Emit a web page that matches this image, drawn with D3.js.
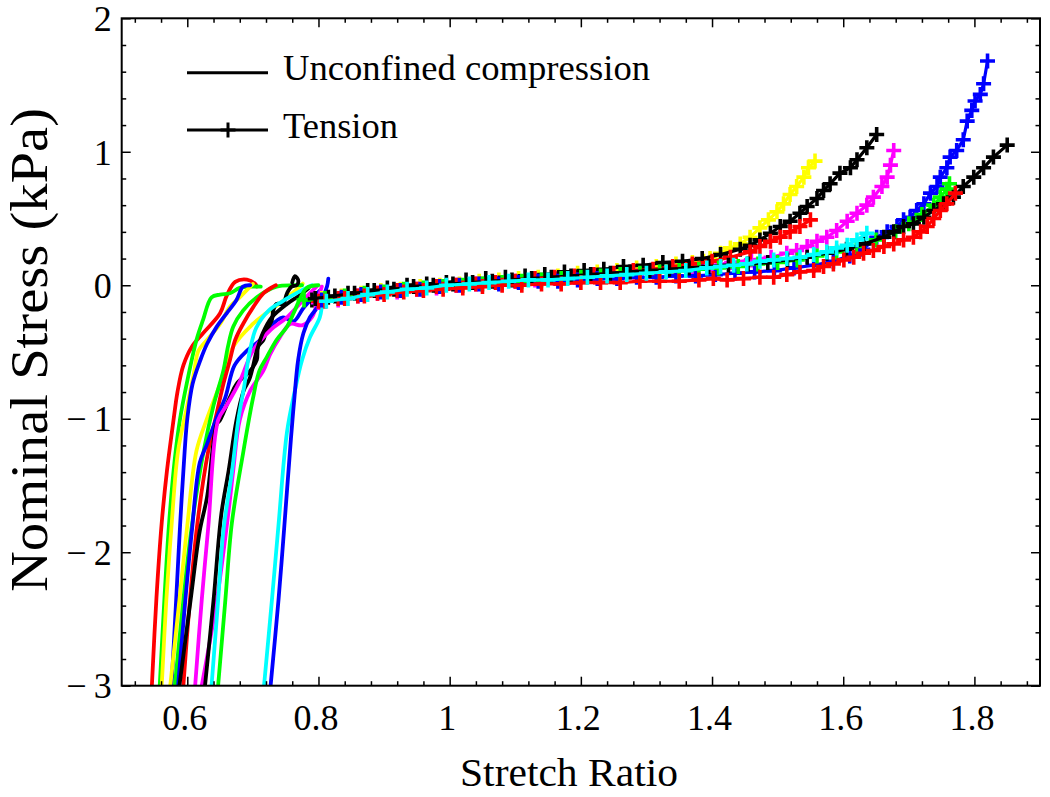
<!DOCTYPE html>
<html>
<head>
<meta charset="utf-8">
<script src="https://cdnjs.cloudflare.com/ajax/libs/d3/7.8.5/d3.min.js"></script>
<style>
  body { margin: 0; background: #fff; }
  text { font-family: "Liberation Serif", "Times New Roman", serif; fill: #000; }
</style>
</head>
<body>
<script>
// ---- data: [stretch ratio, nominal stress kPa] ----

// unconfined compression curves (solid lines)
var compRed1 = [[0.706,-0.01],[0.703,0.013],[0.691,0.043],[0.673,0.025],[0.660,-0.08],[0.650,-0.21],[0.624,-0.36],[0.607,-0.46],[0.594,-0.6],[0.585,-0.8],[0.579,-1.01],[0.569,-1.39],[0.561,-1.78],[0.553,-2.34],[0.546,-3]];
var compGreen1 = [[0.712,-0.01],[0.700,-0.01],[0.680,-0.02],[0.665,-0.06],[0.650,-0.07],[0.637,-0.09],[0.624,-0.26],[0.614,-0.41],[0.599,-0.74],[0.589,-1.0],[0.581,-1.3],[0.572,-1.8],[0.565,-2.36],[0.558,-3]];
var compYellow1 = [[0.700,0.01],[0.696,-0.01],[0.680,-0.09],[0.665,-0.16],[0.650,-0.29],[0.630,-0.41],[0.617,-0.49],[0.610,-0.66],[0.600,-0.9],[0.586,-1.24],[0.576,-1.8],[0.568,-2.36],[0.561,-3]];
var compBlue1 = [[0.696,0.0],[0.685,-0.01],[0.675,-0.11],[0.660,-0.21],[0.645,-0.31],[0.630,-0.44],[0.620,-0.56],[0.608,-0.74],[0.600,-1.0],[0.596,-1.24],[0.589,-1.8],[0.583,-2.36],[0.576,-3]];
var compYellow2 = [[0.776,0.013],[0.760,-0.06],[0.741,-0.136],[0.720,-0.21],[0.700,-0.29],[0.670,-0.46],[0.650,-0.74],[0.630,-1.0],[0.614,-1.24],[0.600,-1.8],[0.588,-2.36],[0.574,-3]];
var compGreen2 = [[0.775,0.0],[0.762,0.0],[0.736,-0.01],[0.706,-0.09],[0.685,-0.19],[0.670,-0.31],[0.662,-0.46],[0.655,-0.64],[0.640,-0.9],[0.625,-1.24],[0.607,-1.8],[0.594,-2.36],[0.581,-3]];
var compRed2 = [[0.735,0.0],[0.731,-0.01],[0.716,-0.06],[0.701,-0.16],[0.685,-0.29],[0.673,-0.41],[0.665,-0.56],[0.655,-0.74],[0.643,-1.0],[0.632,-1.24],[0.615,-1.8],[0.604,-2.36],[0.594,-3]];
var compBlack1 = [[0.760,0.02],[0.764,0.068],[0.769,0.04],[0.767,0.0],[0.759,-0.01],[0.752,-0.06],[0.746,-0.14],[0.736,-0.14],[0.731,-0.19],[0.729,-0.26],[0.721,-0.34],[0.716,-0.41],[0.708,-0.46],[0.706,-0.56],[0.696,-0.64],[0.675,-0.74],[0.665,-0.84],[0.650,-1.01],[0.645,-1.04],[0.630,-1.59],[0.619,-1.84],[0.605,-2.36],[0.588,-3]];
var compBlue2 = [[0.802,-0.04],[0.792,-0.09],[0.777,-0.17],[0.762,-0.27],[0.746,-0.24],[0.726,-0.31],[0.711,-0.41],[0.691,-0.49],[0.672,-0.6],[0.658,-0.84],[0.645,-0.99],[0.630,-1.19],[0.619,-1.33],[0.607,-1.84],[0.597,-2.36],[0.586,-3]];
var compMagenta1 = [[0.797,-0.01],[0.777,-0.11],[0.752,-0.24],[0.726,-0.34],[0.700,-0.49],[0.680,-0.72],[0.660,-0.9],[0.647,-1.01],[0.632,-1.81],[0.622,-2.36],[0.612,-3]];
var compMagenta2 = [[0.805,-0.01],[0.800,-0.09],[0.790,-0.24],[0.775,-0.30],[0.757,-0.29],[0.741,-0.39],[0.726,-0.52],[0.716,-0.64],[0.696,-0.79],[0.680,-1.01],[0.670,-1.39],[0.663,-1.69],[0.645,-2.36],[0.622,-3]];
var compBlack2 = [[0.785,-0.02],[0.770,-0.08],[0.752,-0.14],[0.729,-0.24],[0.715,-0.36],[0.706,-0.49],[0.695,-0.7],[0.686,-0.79],[0.675,-1.01],[0.663,-1.39],[0.652,-1.71],[0.640,-2.36],[0.627,-3]];
var compCyan1 = [[0.790,0.0],[0.770,-0.05],[0.745,-0.12],[0.724,-0.19],[0.705,-0.32],[0.695,-0.5],[0.687,-0.75],[0.678,-1.0],[0.668,-1.4],[0.655,-1.84],[0.647,-2.36],[0.637,-3]];
var compGreen3 = [[0.800,0.0],[0.782,-0.02],[0.770,-0.12],[0.762,-0.21],[0.752,-0.31],[0.736,-0.41],[0.721,-0.54],[0.710,-0.64],[0.700,-0.85],[0.685,-1.26],[0.668,-1.78],[0.658,-2.36],[0.647,-3]];
var compCyan2 = [[0.812,-0.05],[0.807,-0.11],[0.802,-0.24],[0.787,-0.39],[0.775,-0.56],[0.764,-0.79],[0.752,-1.1],[0.739,-1.8],[0.729,-2.36],[0.717,-3]];
var compBlue3 = [[0.815,0.05],[0.813,-0.01],[0.802,-0.14],[0.787,-0.24],[0.777,-0.36],[0.769,-0.56],[0.763,-0.86],[0.758,-1.15],[0.748,-1.8],[0.739,-2.36],[0.727,-3]];

// tension curves (lines with + markers)
var tenYellow = [[0.805,-0.10],[0.835,-0.08],[0.865,-0.06],[0.895,-0.04],[0.925,-0.03],[0.955,-0.01],[0.985,0.00],[1.015,0.01],[1.045,0.03],[1.075,0.04],[1.105,0.05],[1.135,0.06],[1.165,0.07],[1.195,0.09],[1.225,0.10],[1.255,0.11],[1.285,0.13],[1.315,0.14],[1.345,0.16],[1.370,0.17],[1.387,0.18],[1.397,0.20],[1.413,0.24],[1.428,0.28],[1.443,0.31],[1.458,0.36],[1.473,0.43],[1.486,0.49],[1.499,0.55],[1.509,0.61],[1.519,0.68],[1.529,0.74],[1.540,0.81],[1.547,0.88],[1.557,0.93]];
var tenBlack1 = [[0.790,-0.11],[0.815,-0.09],[0.845,-0.06],[0.875,-0.04],[0.905,-0.02],[0.935,0.0],[0.965,0.01],[0.995,0.02],[1.025,0.04],[1.055,0.05],[1.085,0.06],[1.115,0.07],[1.145,0.08],[1.175,0.10],[1.205,0.11],[1.235,0.12],[1.265,0.14],[1.295,0.15],[1.325,0.17],[1.355,0.18],[1.385,0.20],[1.413,0.23],[1.443,0.27],[1.458,0.30],[1.473,0.34],[1.489,0.39],[1.504,0.44],[1.519,0.48],[1.534,0.54],[1.545,0.59],[1.560,0.65],[1.570,0.71],[1.580,0.76],[1.595,0.84],[1.611,0.88],[1.621,0.94],[1.636,1.03],[1.651,1.13]];
var tenMagenta = [[0.800,-0.13],[0.830,-0.11],[0.860,-0.08],[0.890,-0.06],[0.920,-0.05],[0.950,-0.03],[0.980,-0.02],[1.010,0.0],[1.040,0.01],[1.070,0.02],[1.100,0.03],[1.130,0.04],[1.160,0.05],[1.190,0.06],[1.220,0.07],[1.250,0.08],[1.280,0.10],[1.310,0.11],[1.340,0.12],[1.370,0.14],[1.400,0.15],[1.430,0.17],[1.460,0.19],[1.490,0.21],[1.514,0.24],[1.529,0.26],[1.545,0.29],[1.560,0.33],[1.575,0.36],[1.590,0.41],[1.606,0.48],[1.621,0.54],[1.636,0.60],[1.646,0.66],[1.659,0.74],[1.667,0.81],[1.672,0.90],[1.677,1.01]];
var tenRed1 = [[0.800,-0.12],[0.830,-0.10],[0.860,-0.08],[0.890,-0.06],[0.920,-0.04],[0.950,-0.03],[0.980,-0.01],[1.010,0.0],[1.040,0.01],[1.070,0.02],[1.100,0.03],[1.130,0.05],[1.160,0.06],[1.190,0.07],[1.220,0.08],[1.250,0.09],[1.280,0.11],[1.310,0.12],[1.340,0.14],[1.370,0.16],[1.400,0.18],[1.428,0.21],[1.458,0.25],[1.473,0.29],[1.489,0.33],[1.504,0.36],[1.519,0.40],[1.534,0.44],[1.550,0.49]];
var tenBlue = [[0.805,-0.11],[0.835,-0.09],[0.865,-0.07],[0.895,-0.05],[0.925,-0.04],[0.955,-0.03],[0.985,-0.01],[1.015,0.0],[1.045,0.01],[1.075,0.01],[1.105,0.02],[1.135,0.03],[1.165,0.03],[1.195,0.04],[1.225,0.05],[1.255,0.05],[1.285,0.06],[1.315,0.06],[1.345,0.07],[1.375,0.07],[1.405,0.08],[1.435,0.09],[1.465,0.10],[1.495,0.11],[1.525,0.13],[1.555,0.15],[1.585,0.18],[1.610,0.22],[1.630,0.27],[1.651,0.36],[1.667,0.40],[1.682,0.44],[1.692,0.49],[1.702,0.51],[1.712,0.56],[1.723,0.61],[1.733,0.69],[1.743,0.74],[1.748,0.81],[1.758,0.88],[1.763,0.96],[1.773,1.01],[1.783,1.09],[1.789,1.23],[1.796,1.31],[1.801,1.38],[1.809,1.43],[1.814,1.51],[1.820,1.68]];
var tenBlack2 = [[0.795,-0.10],[0.825,-0.08],[0.855,-0.06],[0.885,-0.04],[0.915,-0.03],[0.945,-0.01],[0.975,0.0],[1.005,0.01],[1.035,0.02],[1.065,0.03],[1.095,0.04],[1.125,0.05],[1.155,0.06],[1.185,0.07],[1.215,0.08],[1.245,0.09],[1.275,0.10],[1.305,0.11],[1.335,0.12],[1.365,0.13],[1.395,0.14],[1.425,0.15],[1.455,0.16],[1.485,0.17],[1.515,0.19],[1.545,0.21],[1.575,0.24],[1.605,0.27],[1.632,0.31],[1.662,0.36],[1.677,0.40],[1.692,0.44],[1.707,0.46],[1.723,0.51],[1.738,0.56],[1.753,0.61],[1.768,0.66],[1.783,0.74],[1.799,0.81],[1.814,0.88],[1.829,0.96],[1.850,1.05]];
var tenGreen = [[0.778,-0.11],[0.810,-0.10],[0.840,-0.08],[0.870,-0.06],[0.900,-0.05],[0.930,-0.03],[0.960,-0.02],[0.990,-0.01],[1.020,0.0],[1.050,0.01],[1.080,0.02],[1.110,0.03],[1.140,0.04],[1.170,0.05],[1.200,0.06],[1.230,0.07],[1.260,0.08],[1.290,0.09],[1.320,0.10],[1.350,0.11],[1.380,0.12],[1.410,0.13],[1.440,0.14],[1.470,0.16],[1.500,0.17],[1.530,0.19],[1.560,0.22],[1.590,0.25],[1.620,0.29],[1.650,0.34],[1.680,0.40],[1.700,0.46],[1.720,0.53],[1.738,0.60],[1.748,0.66],[1.758,0.72],[1.762,0.76]];
var tenRed2 = [[0.810,-0.12],[0.840,-0.10],[0.870,-0.08],[0.900,-0.07],[0.930,-0.05],[0.960,-0.04],[0.990,-0.03],[1.020,-0.02],[1.050,-0.01],[1.080,0.0],[1.110,0.0],[1.140,0.01],[1.170,0.01],[1.200,0.02],[1.230,0.02],[1.260,0.02],[1.290,0.03],[1.320,0.03],[1.350,0.03],[1.380,0.04],[1.402,0.05],[1.423,0.04],[1.448,0.05],[1.473,0.06],[1.494,0.06],[1.514,0.08],[1.534,0.10],[1.555,0.11],[1.570,0.14],[1.585,0.16],[1.601,0.19],[1.616,0.21],[1.631,0.24],[1.646,0.26],[1.662,0.29],[1.677,0.31],[1.692,0.34],[1.707,0.36],[1.718,0.40],[1.728,0.44],[1.738,0.50],[1.748,0.56],[1.758,0.61],[1.771,0.69]];
var tenCyan = [[0.812,-0.12],[0.845,-0.10],[0.875,-0.07],[0.905,-0.05],[0.935,-0.03],[0.965,-0.02],[0.995,0.0],[1.030,0.01],[1.060,0.02],[1.090,0.03],[1.120,0.04],[1.150,0.04],[1.180,0.05],[1.210,0.06],[1.240,0.07],[1.270,0.08],[1.300,0.09],[1.330,0.10],[1.360,0.11],[1.392,0.13],[1.413,0.14],[1.433,0.15],[1.453,0.16],[1.473,0.18],[1.494,0.19],[1.514,0.20],[1.534,0.21],[1.555,0.23],[1.575,0.25],[1.590,0.28],[1.606,0.30],[1.621,0.34],[1.636,0.39]];

var xMajor = [0.6, 0.8, 1, 1.2, 1.4, 1.6, 1.8];
var yMajor = [-3, -2, -1, 0, 1, 2];
var legendLabels = ["Unconfined compression", "Tension"];

// ---- layout ----
var W = 1050, H = 797;
var L = 121.7, R = 1040, T = 18.3, B = 685.7;

var compression = [
  {c:"#ff0000", d:compRed1}, {c:"#00ff00", d:compGreen1}, {c:"#ffff00", d:compYellow1},
  {c:"#0000ff", d:compBlue1}, {c:"#ffff00", d:compYellow2}, {c:"#00ff00", d:compGreen2},
  {c:"#ff0000", d:compRed2}, {c:"#0000ff", d:compBlue2}, {c:"#000000", d:compBlack1},
  {c:"#ff00ff", d:compMagenta1}, {c:"#ff00ff", d:compMagenta2}, {c:"#000000", d:compBlack2},
  {c:"#00ffff", d:compCyan1}, {c:"#00ff00", d:compGreen3}, {c:"#00ffff", d:compCyan2},
  {c:"#0000ff", d:compBlue3}
];
var tension = [
  {c:"#ffff00", d:tenYellow}, {c:"#000000", d:tenBlack1}, {c:"#ff00ff", d:tenMagenta},
  {c:"#ff0000", d:tenRed1}, {c:"#0000ff", d:tenBlue}, {c:"#00ff00", d:tenGreen},
  {c:"#000000", d:tenBlack2}, {c:"#ff0000", d:tenRed2}, {c:"#00ffff", d:tenCyan}
];

var xScale = d3.scaleLinear().domain([0.5, 1.9]).range([L, R]);
var yScale = d3.scaleLinear().domain([-3, 2]).range([B, T]);

var svg = d3.select("body").append("svg").attr("width", W).attr("height", H);

svg.append("defs").append("clipPath").attr("id", "plotclip")
  .append("rect").attr("x", L).attr("y", T).attr("width", R - L).attr("height", B - T);

var plot = svg.append("g").attr("clip-path", "url(#plotclip)");

var smooth = d3.line()
  .x(function(d){ return xScale(d[0]); })
  .y(function(d){ return yScale(d[1]); })
  .curve(d3.curveCatmullRom);
var straight = d3.line()
  .x(function(d){ return xScale(d[0]); })
  .y(function(d){ return yScale(d[1]); });

compression.forEach(function(s){
  plot.append("path").attr("d", smooth(s.d))
    .attr("fill", "none").attr("stroke", s.c).attr("stroke-width", 3.8)
    .attr("stroke-linejoin", "round").attr("stroke-linecap", "round");
});

var plusPath = "M-7.5,0H7.5M0,-7.5V7.5";
tension.forEach(function(s){
  var g = plot.append("g");
  g.append("path").attr("d", straight(s.d))
    .attr("fill", "none").attr("stroke", s.c).attr("stroke-width", 3.2)
    .attr("stroke-linejoin", "round");
  g.selectAll("path.m").data(s.d).enter().append("path").attr("class", "m")
    .attr("d", plusPath)
    .attr("transform", function(d){ return "translate(" + xScale(d[0]) + "," + yScale(d[1]) + ")"; })
    .attr("stroke", s.c).attr("stroke-width", 3.6).attr("fill", "none");
});

// ---- axes (ticks inside, all four sides) ----
function styleAxis(g) {
  g.select(".domain").remove();
  g.selectAll(".tick line").attr("stroke", "#000").attr("stroke-width", 1.5);
}
var xMinor = d3.range(0.52, 1.89, 0.04).filter(function(v){ return Math.abs((v * 5) - Math.round(v * 5)) > 1e-6; });
var yMinor = d3.range(-2.8, 2, 0.2).filter(function(v){ return Math.abs(v - Math.round(v)) > 1e-6; });

var xb = svg.append("g").attr("transform", "translate(0," + B + ")")
  .call(d3.axisBottom(xScale).tickValues(xMajor).tickSizeInner(-9).tickSizeOuter(0)
    .tickFormat(function(d){ return String(d); }));
styleAxis(xb);
xb.selectAll("text").attr("y", 44).attr("dy", 0).attr("dx", -3)
  .style("font-size", "36px").style("font-family", "'Liberation Serif', serif");

svg.append("g").attr("transform", "translate(0," + B + ")")
  .call(d3.axisBottom(xScale).tickValues(xMinor).tickSizeInner(-4.5).tickSizeOuter(0).tickFormat(""))
  .call(styleAxis);
svg.append("g").attr("transform", "translate(0," + T + ")")
  .call(d3.axisTop(xScale).tickValues(xMajor).tickSizeInner(-9).tickSizeOuter(0).tickFormat(""))
  .call(styleAxis);
svg.append("g").attr("transform", "translate(0," + T + ")")
  .call(d3.axisTop(xScale).tickValues(xMinor).tickSizeInner(-4.5).tickSizeOuter(0).tickFormat(""))
  .call(styleAxis);

var yl = svg.append("g").attr("transform", "translate(" + L + ",0)")
  .call(d3.axisLeft(yScale).tickValues(yMajor).tickSizeInner(-9).tickSizeOuter(0)
    .tickFormat(function(d){ return d < 0 ? "\u2212\u2009" + Math.abs(d) : String(d); }));
styleAxis(yl);
yl.selectAll("text").attr("x", -10).attr("dy", "0.34em")
  .style("font-size", "36px").style("font-family", "'Liberation Serif', serif");

svg.append("g").attr("transform", "translate(" + L + ",0)")
  .call(d3.axisLeft(yScale).tickValues(yMinor).tickSizeInner(-4.5).tickSizeOuter(0).tickFormat(""))
  .call(styleAxis);
svg.append("g").attr("transform", "translate(" + R + ",0)")
  .call(d3.axisRight(yScale).tickValues(yMajor).tickSizeInner(-9).tickSizeOuter(0).tickFormat(""))
  .call(styleAxis);
svg.append("g").attr("transform", "translate(" + R + ",0)")
  .call(d3.axisRight(yScale).tickValues(yMinor).tickSizeInner(-4.5).tickSizeOuter(0).tickFormat(""))
  .call(styleAxis);

svg.append("rect").attr("x", L).attr("y", T).attr("width", R - L).attr("height", B - T)
  .attr("fill", "none").attr("stroke", "#000").attr("stroke-width", 2);

// ---- titles ----
svg.append("text").attr("x", 569).attr("y", 786).attr("text-anchor", "middle")
  .attr("textLength", 218).attr("lengthAdjust", "spacingAndGlyphs")
  .style("font-size", "41px").text("Stretch Ratio");
svg.append("text").attr("transform", "translate(47,350) rotate(-90)").attr("text-anchor", "middle")
  .attr("textLength", 484).attr("lengthAdjust", "spacingAndGlyphs")
  .style("font-size", "52px").text("Nominal Stress (kPa)");

// ---- legend ----
var leg = svg.append("g");
leg.append("line").attr("x1", 187).attr("x2", 268).attr("y1", 72.7).attr("y2", 72.7)
  .attr("stroke", "#000").attr("stroke-width", 3);
leg.append("line").attr("x1", 187).attr("x2", 268).attr("y1", 130).attr("y2", 130)
  .attr("stroke", "#000").attr("stroke-width", 3);
leg.append("path").attr("d", "M-7.5,0H7.5M0,-7.5V7.5").attr("transform", "translate(228,130)")
  .attr("stroke", "#000").attr("stroke-width", 3);
leg.append("text").attr("x", 283).attr("y", 80).attr("textLength", 367).attr("lengthAdjust", "spacingAndGlyphs")
  .style("font-size", "36.5px").text(legendLabels[0]);
leg.append("text").attr("x", 283).attr("y", 138).attr("textLength", 115).attr("lengthAdjust", "spacingAndGlyphs")
  .style("font-size", "36.5px").text(legendLabels[1]);
</script>
</body>
</html>
